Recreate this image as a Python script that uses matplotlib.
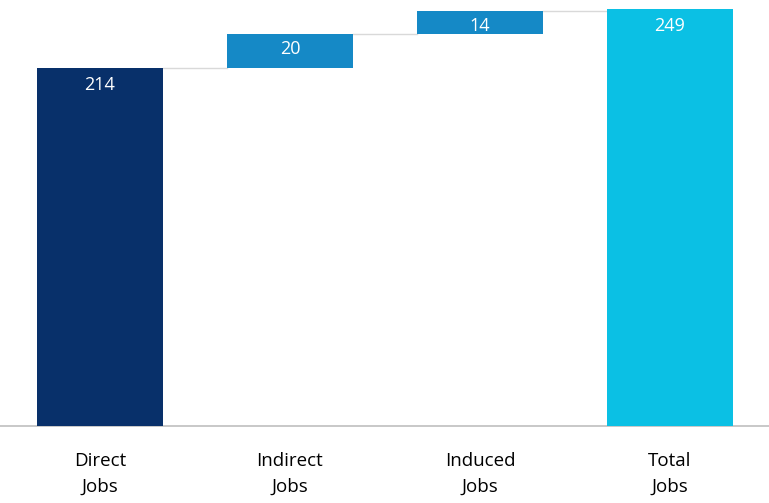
import matplotlib.pyplot as plt

categories = ["Direct\nJobs", "Indirect\nJobs", "Induced\nJobs", "Total\nJobs"]
values = [214, 20, 14, 249]
kinds = ["start", "step", "step", "total"]
colors = ["#08306A", "#1589C6", "#1589C6", "#0BC0E4"]

plt.rcParams["font.family"] = ["Open Sans", "DejaVu Sans"]

fig = plt.figure(figsize=(7.69, 5.03), dpi=100)
ax = fig.add_axes([0, 0.153, 1, 0.847])

# bottoms for the waterfall
bottoms = []
run = 0
for v, k in zip(values, kinds):
    if k == "step":
        bottoms.append(run)
        run += v
    else:
        bottoms.append(0)
        run = v

x = list(range(len(values)))
width = 0.66
ax.bar(x, values, bottom=bottoms, width=width, color=colors, zorder=3)

# connectors
for i in range(len(values) - 1):
    top = bottoms[i] + values[i]
    ax.plot([i + width / 2, i + 1 - width / 2], [top, top], color="#d9d9d9", lw=1, zorder=2)

for i, (v, b) in enumerate(zip(values, bottoms)):
    off = 10 if kinds[i] != "step" else 9
    ax.text(i, b + v - off, str(v), ha="center", va="center", color="white", fontsize=13, zorder=4)

ax.set_xlim(-0.526, 3.521)
ax.set_ylim(0, 254.5)
ax.set_xticks(x)
ax.set_xticklabels(categories, fontsize=13.5, linespacing=1.5)
ax.tick_params(axis="x", length=0, pad=19)
ax.set_yticks([])
for s in ["top", "left", "right"]:
    ax.spines[s].set_visible(False)
ax.spines["bottom"].set_color("#bfbfbf")
ax.spines["bottom"].set_linewidth(1.2)

fig.savefig("out.png", dpi=100)
